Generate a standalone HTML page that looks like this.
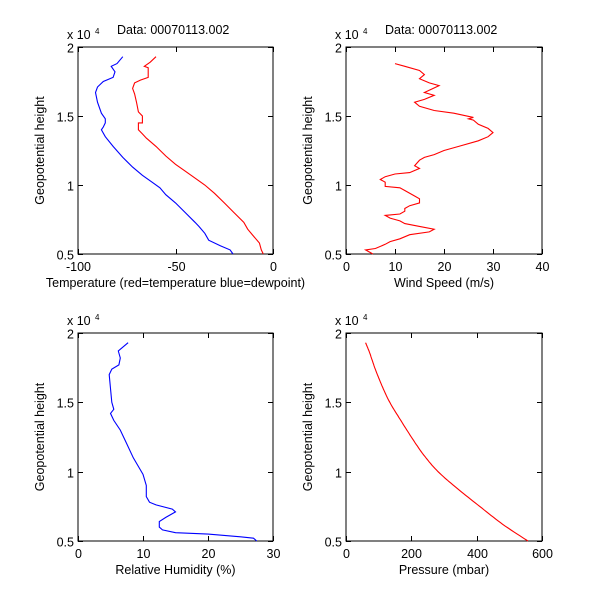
<!DOCTYPE html>
<html><head><meta charset="utf-8"><style>
html,body{margin:0;padding:0;background:#fff;}
svg text{font-family:"Liberation Sans",Arial,sans-serif;font-size:12.5px;fill:#000;}
</style></head><body>
<svg id="s" width="600" height="610" xmlns="http://www.w3.org/2000/svg"></svg>
<script>
const s=document.getElementById('s');let h='';
function plot(x0,x1,y0,y1,xmin,xmax,xt,xl,data,title){
 const fx=v=>x0+(v-xmin)/(xmax-xmin)*(x1-x0), fy=v=>y1-(v-0.5)/1.5*(y1-y0);
 h+=`<rect x="${x0}" y="${y0}" width="${x1-x0}" height="${y1-y0}" fill="#fff" stroke="#000" stroke-width="1"/>`;
 [0.5,1,1.5,2].forEach(v=>{const y=Math.round(fy(v))+0.5;
  h+=`<line x1="${x0}" x2="${x0+5}" y1="${y}" y2="${y}" stroke="#000"/><line x1="${x1-5}" x2="${x1}" y1="${y}" y2="${y}" stroke="#000"/>`;
  h+=`<text x="${x0-4}" y="${y+5}" text-anchor="end">${v}</text>`;});
 xt.forEach(v=>{const x=Math.round(fx(v))+0.5;
  h+=`<line x1="${x}" x2="${x}" y1="${y1}" y2="${y1-5}" stroke="#000"/><line x1="${x}" x2="${x}" y1="${y0}" y2="${y0+5}" stroke="#000"/>`;
  h+=`<text x="${x}" y="${y1+17}" text-anchor="middle">${v}</text>`;});
 h+=`<text x="${(x0+x1)/2}" y="${y1+33}" text-anchor="middle">${xl}</text>`;
 const cy=(y0+y1)/2;
 h+=`<text transform="translate(${x0-34},${cy}) rotate(-90)" text-anchor="middle">Geopotential height</text>`;
 h+=`<text x="${x0-11}" y="${y0-8}">x 10</text><text x="${x0+17}" y="${y0-13}" style="font-size:8px">4</text>`;
 if(title)h+=`<text x="${x0+39}" y="${y0-13}">${title}</text>`;
 data.forEach(([c,pts])=>{h+=`<polyline fill="none" stroke="${c}" stroke-width="1.1" points="${pts.map(p=>fx(p[0]).toFixed(1)+','+fy(p[1]).toFixed(1)).join(' ')}"/>`;});
}
const red=[[-5,0.5],[-6,0.53],[-7,0.58],[-10,0.63],[-13,0.68],[-15,0.73],[-20,0.8],[-25,0.87],[-30,0.94],[-35,1.0],[-40,1.05],[-45,1.1],[-50,1.15],[-55,1.21],[-60,1.28],[-65,1.34],[-67,1.37],[-69,1.4],[-69,1.45],[-67,1.45],[-67,1.5],[-69,1.53],[-70,1.6],[-71,1.66],[-72,1.7],[-71,1.74],[-68,1.76],[-64,1.78],[-64,1.85],[-66,1.86],[-63,1.89],[-60,1.93]];
const blue=[[-20.5,0.5],[-22,0.53],[-27,0.56],[-33,0.6],[-35,0.65],[-38,0.7],[-40,0.73],[-45,0.8],[-50,0.87],[-55,0.93],[-58,0.98],[-62,1.02],[-67,1.07],[-72,1.13],[-77,1.2],[-82,1.28],[-86,1.35],[-88,1.4],[-87,1.42],[-86,1.45],[-86,1.48],[-88,1.52],[-90,1.6],[-91,1.67],[-90,1.71],[-87,1.75],[-82,1.78],[-81,1.82],[-83,1.86],[-80,1.88],[-77,1.93]];
const wind=[[5.5,0.5],[4,0.53],[6,0.54],[8,0.57],[9,0.59],[11,0.61],[13,0.64],[17,0.66],[18,0.68],[15,0.7],[12,0.72],[11,0.74],[9,0.76],[8,0.78],[11,0.79],[12,0.81],[12,0.83],[13,0.85],[15,0.87],[15,0.9],[14,0.92],[12,0.96],[11,0.98],[8,0.99],[8,1.02],[7,1.04],[8,1.06],[10,1.08],[13,1.09],[15,1.12],[14,1.14],[15,1.18],[16,1.2],[18,1.22],[20,1.25],[23,1.28],[27,1.32],[29,1.35],[30,1.38],[29,1.41],[27,1.44],[26,1.47],[25,1.48],[26,1.49],[22,1.52],[18,1.54],[15,1.57],[14,1.6],[16,1.62],[18,1.65],[16,1.67],[19,1.72],[17,1.74],[15,1.77],[16,1.8],[15,1.83],[12,1.86],[10,1.88]];
const rh=[[27.5,0.5],[27,0.52],[25,0.53],[20,0.55],[15,0.56],[13,0.58],[12.5,0.6],[12.5,0.64],[13.5,0.67],[15,0.71],[14.5,0.73],[12,0.76],[11,0.78],[10.5,0.82],[10.5,0.9],[10,0.98],[9.5,1.02],[8.5,1.1],[7.5,1.2],[6.5,1.3],[5.5,1.37],[5,1.42],[5.5,1.45],[5.2,1.5],[5,1.6],[4.8,1.7],[5.2,1.74],[6.3,1.77],[6.5,1.82],[6.2,1.87],[7.7,1.93]];
const prk=[[557,0.5],[480,0.62],[409,0.75],[340,0.88],[282,1.0],[238,1.12],[200,1.25],[165,1.38],[134,1.5],[110,1.62],[88,1.75],[72,1.86],[60,1.93]];
// smooth via catmull-rom
const pr=[];for(let i=0;i<prk.length-1;i++){const p0=prk[Math.max(0,i-1)],p1=prk[i],p2=prk[i+1],p3=prk[Math.min(prk.length-1,i+2)];
 for(let t=0;t<1;t+=0.1){const t2=t*t,t3=t2*t;const f=(a,b,c,d)=>0.5*(2*b+(-a+c)*t+(2*a-5*b+4*c-d)*t2+(-a+3*b-3*c+d)*t3);
 pr.push([f(p0[0],p1[0],p2[0],p3[0]),f(p0[1],p1[1],p2[1],p3[1])]);}}
pr.push(prk[prk.length-1]);
plot(78,273,47,254,-100,0,[-100,-50,0],'Temperature (red=temperature blue=dewpoint)',[['#f00',red],['#00f',blue]],'Data: 00070113.002');
plot(346,542,47,254,0,40,[0,10,20,30,40],'Wind Speed (m/s)',[['#f00',wind]],'Data: 00070113.002');
plot(78,273,333,541,0,30,[0,10,20,30],'Relative Humidity (%)',[['#00f',rh]],'');
plot(346,542,333,541,0,600,[0,200,400,600],'Pressure (mbar)',[['#f00',pr]],'');
s.innerHTML=h;
</script>
</body></html>
